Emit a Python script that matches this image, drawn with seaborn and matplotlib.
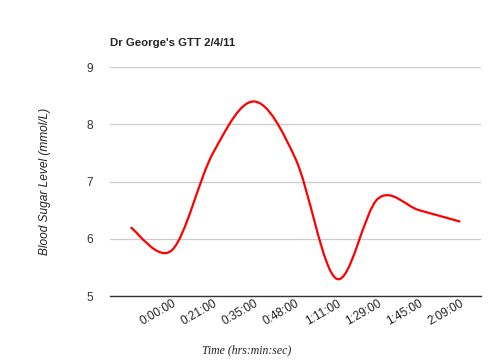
import numpy as np
import seaborn as sns
import matplotlib.pyplot as plt
from matplotlib.path import Path
from matplotlib.patches import PathPatch

# data
times = ["", "0:00:00", "0:21:00", "0:35:00", "0:48:00",
         "1:11:00", "1:29:00", "1:45:00", "2:09:00"]
sugar = [6.2, 5.8, 7.5, 8.4, 7.4, 5.3, 6.7, 6.5, 6.3]
yticks = [5, 6, 7, 8, 9]

sns.set_style("white")
plt.rcParams["font.family"] = ["Liberation Sans", "DejaVu Sans"]

fig = plt.figure(figsize=(4.9, 3.61), dpi=100)
ax = fig.add_axes([0.2245, 0.180, 0.757, 0.634])

pos = np.arange(len(sugar))

# smooth curve through the points (cubic bezier, catmull-rom style)
pts = np.column_stack([pos, sugar]).astype(float)
k = 1 / 6
verts = [pts[0]]
codes = [Path.MOVETO]
for i in range(len(pts) - 1):
    p_prev = pts[max(i - 1, 0)]
    p0, p1 = pts[i], pts[i + 1]
    p_next = pts[min(i + 2, len(pts) - 1)]
    verts += [p0 + (p1 - p_prev) * k, p1 - (p_next - p0) * k, p1]
    codes += [Path.CURVE4] * 3
ax.add_patch(PathPatch(Path(verts, codes), fill=False, edgecolor="red",
                       lw=1.6, capstyle="butt", zorder=3))

ax.set_xlim(-0.5, len(sugar) - 0.5)
ax.set_ylim(5, 9)
ax.set_yticks(yticks)
ax.set_xticks(pos)
ax.set_xticklabels(times, rotation=30, ha="right", rotation_mode="anchor",
                   fontsize=8.5, color="#222")
ax.tick_params(axis="x", length=0, pad=1)
ax.tick_params(axis="y", length=0, pad=12, labelsize=8.6, labelcolor="#333")

ax.grid(axis="y", color="#cccccc", lw=0.9)
ax.grid(axis="x", visible=False)
for s in ["top", "right", "left"]:
    ax.spines[s].set_visible(False)
ax.spines["bottom"].set_color("#333333")
ax.spines["bottom"].set_linewidth(1.0)

ax.set_title("Dr George's GTT 2/4/11", loc="left", fontsize=8.2,
             fontweight="bold", pad=15)
ax.set_ylabel("Blood Sugar Level (mmol/L)", fontsize=8.6, style="italic",
              labelpad=26, color="#222")
ax.set_xlabel("Time (hrs:min:sec)", fontsize=8.5, style="italic",
              family=["Liberation Serif", "DejaVu Serif"], color="#222")
ax.xaxis.set_label_coords(0.367, -0.21)

plt.savefig("out.png", dpi=100)
